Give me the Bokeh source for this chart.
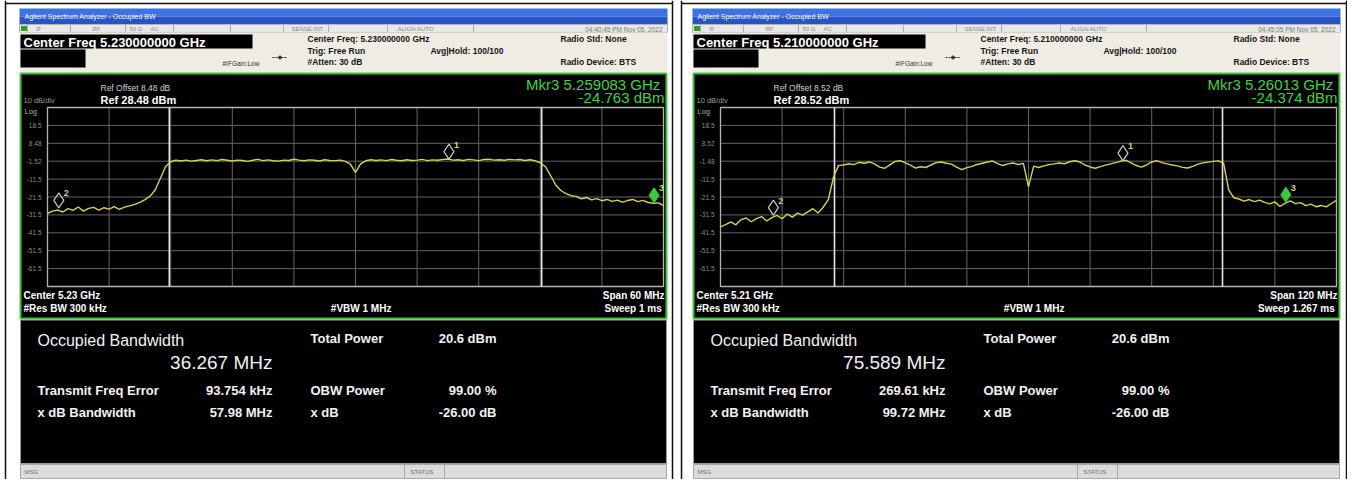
import numpy as np
from bokeh.plotting import figure
from bokeh.models import Range1d
from bokeh.core.properties import value
from bokeh.embed import file_html
from bokeh.resources import INLINE

# ===================== DATA (read from the two analyzer screens) =====================
center_ghz = [5.23, 5.21]
span_mhz = [60.0, 120.0]
ref_dbm = [28.48, 28.52]
ref_offset_db = ["8.48", "8.52"]
obw_mhz = [36.267, 75.589]
total_power = ["20.6 dBm", "20.6 dBm"]
tx_freq_err = ["93.754 kHz", "269.61 kHz"]
obw_power = ["99.00 %", "99.00 %"]
xdb_bw = ["57.98 MHz", "99.72 MHz"]
x_db = ["-26.00 dB", "-26.00 dB"]
sweep = ["1 ms", "1.267 ms"]
timestamps = ["04:40:45 PM Nov 05, 2022", "04:45:05 PM Nov 05, 2022"]
mkr3_freq_label = ["5.259083 GHz", "5.26013 GHz"]
y_tick_labels = [
    ["18.5", "8.48", "-1.52", "-11.5", "-21.5", "-31.5", "-41.5", "-51.5", "-61.5"],
    ["18.5", "8.52", "-1.48", "-11.5", "-21.5", "-31.5", "-41.5", "-51.5", "-61.5"],
]

# trace levels (dBm), evenly spaced across the span
trace_left_dbm = [
    -30.6, -29.4, -28.8, -29.9, -28.0, -28.9, -27.1, -29.4, -27.9, -27.3,
    -28.8, -27.5, -28.3, -26.9, -28.4, -27.2, -26.5, -25.6, -24.5, -23.0,
    -21.0, -17.5, -11.0, -4.5, -1.8, -1.0, -1.4, -0.9, -1.5, -1.1,
    -0.7, -1.3, -0.8, -1.2, -0.6, -1.0, -1.4, -0.9, -1.1, -1.6,
    -1.0, -0.5, -1.2, -0.8, -1.3, -1.5, -0.9, -1.1, -0.4, -0.9,
    -1.3, -0.8, -1.0, -1.4, -0.7, -1.1, -1.2, -0.9, -1.6, -3.2,
    -7.8, -3.0, -1.3, -0.7, -1.1, -0.8, -1.2, -0.6, -1.0, -1.3,
    -0.7, -1.1, -0.9, -0.5, -1.2, -0.8, -1.0, -0.6, -0.3, -0.9,
    -0.7, -1.1, -0.5, -0.8, -1.2, -0.6, -0.4, -0.9, -0.7, -1.0,
    -0.5, -0.8, -0.6, -1.1, -0.7, -1.3, -2.4, -4.6, -9.5, -14.8,
    -17.9, -19.6, -20.8, -21.2, -22.5, -21.8, -23.1, -22.4, -23.6, -22.9,
    -24.0, -23.3, -24.4, -23.5, -22.9, -24.1, -23.4, -24.6, -25.0, -24.8,
    -26.2,
]
trace_right_dbm = [
    -38.2, -36.9, -35.4, -37.0, -34.1, -33.2, -35.3, -33.6, -32.4, -34.9,
    -33.0, -31.8, -33.6, -31.0, -32.7, -30.5, -31.6, -29.8, -28.0, -30.4,
    -27.2, -23.0, -10.5, -3.8, -3.6, -2.9, -3.4, -2.1, -2.6, -1.9,
    -3.0, -4.8, -5.4, -3.5, -1.6, -1.2, -2.4, -3.7, -5.3, -4.6,
    -5.0, -3.6, -2.3, -1.9, -2.6, -3.1, -4.8, -6.2, -5.1, -4.4,
    -3.3, -2.6, -1.9, -1.4, -2.8, -3.9, -3.0, -2.5, -3.3, -2.7,
    -15.8, -4.2, -5.0, -4.1, -3.4, -3.0, -2.5, -2.9, -1.8, -1.2,
    -1.9, -3.6, -4.7, -5.4, -4.5, -3.7, -3.0, -2.3, -1.4, -1.0,
    -2.4, -3.9, -4.8, -3.6, -1.9, -1.2, -2.3, -3.0, -3.6, -4.1,
    -4.9, -5.3, -4.4, -3.1, -2.4, -2.0, -1.6, -1.3, -2.6, -17.5,
    -21.9, -22.6, -23.8, -22.9, -24.1, -23.2, -24.5, -25.3, -24.2, -26.8,
    -24.9, -23.7, -25.2, -24.6, -26.3, -25.5, -26.9, -26.2, -27.0, -25.1,
    -23.4,
]
markers_left_ghz = [5.2391, 5.2011, 5.259083]
markers_left_dbm = [-0.4, -27.6, -24.763]
markers_right_ghz = [5.2284, 5.1603, 5.26013]
markers_right_dbm = [-1.2, -31.6, -24.374]
marker_names = ["1", "2", "3"]

# ===================== FIGURE =====================
W, H = 1347, 479
PX0, PY0 = 0, 0
p = figure(width=W, height=H, x_range=Range1d(PX0, PX0 + W), y_range=Range1d(PY0 + H, PY0),
           output_backend="svg", toolbar_location=None, min_border=0,
           x_axis_location=None, y_axis_location=None, outline_line_color=None,
           background_fill_color="white", border_fill_color="white")
p.grid.visible = False
FONT = value("Liberation Sans")


def txt(x, y, s, size, color, bold=False, align="left"):
    p.text(x=[x], y=[y], text=[s], text_font=FONT, text_font_size=f"{size}px",
           text_color=color, text_align=align, text_baseline="middle",
           text_font_style="bold" if bold else "normal")


def box(l, r, t, b, color, line=None, lw=1.0):
    p.quad(left=[l], right=[r], top=[t], bottom=[b], fill_color=color,
           line_color=line, line_width=lw)


def vline(x, y0, y1, color, lw=1.0):
    p.segment(x0=[x], y0=[y0], x1=[x], y1=[y1], line_color=color, line_width=lw)


def panel(k, dx, levels, mk_f, mk_v):
    c = center_ghz[k]
    sp = span_mhz[k] / 1000.0
    ref = ref_dbm[k]
    L, R = 19 + dx, 667 + dx

    # ---- window chrome ----
    box(L, R, 8, 16, "#3d72e3")
    box(L, R, 16, 24, "#2654c9")
    txt(L + 5, 16, "Agilent Spectrum Analyzer - Occupied BW", 7, "white")
    box(L, R, 24, 32, "#e8e8e8", "#b4b4b4")
    box(L + 1.5, L + 7.5, 25.5, 30.5, "#2c9c2c")
    for xx in [27, 70, 125, 173, 230, 283, 328, 387, 473]:
        vline(xx + dx, 24, 32, "#b0b0b0")
    for xx, s in [(36, "R"), (92, "RF"), (129, "50 Ω"), (150, "AC"),
                  (291, "SENSE:INT"), (397, "ALIGN AUTO")]:
        txt(xx + dx, 28.5, s, 6, "#8a8a8a")
    txt(662 + dx, 28.5, timestamps[k], 6.5, "#7a7a7a", align="right")

    box(L, R, 32, 72, "#efede3")
    box(20 + dx, 252 + dx, 34, 48, "black")
    txt(23 + dx, 41.5, f"Center Freq {c:.9f} GHz", 13, "white", True)
    box(20 + dx, 85 + dx, 49, 67, "black")
    txt(307 + dx, 38.5, f"Center Freq: {c:.9f} GHz", 8.5, "#151515", True)
    txt(307 + dx, 50, "Trig: Free Run", 8.5, "#151515", True)
    txt(307 + dx, 61.5, "#Atten: 30 dB", 8.5, "#151515", True)
    txt(430 + dx, 50.5, "Avg|Hold: 100/100", 8.5, "#151515", True)
    txt(560 + dx, 38.5, "Radio Std: None", 8.5, "#151515", True)
    txt(560 + dx, 61.5, "Radio Device: BTS", 8.5, "#151515", True)
    txt(222 + dx, 63, "#IFGain:Low", 6.5, "#333333")
    p.segment(x0=[272 + dx], y0=[57], x1=[287 + dx], y1=[57], line_color="#333333",
              line_width=1, line_dash="2 1")
    p.scatter(x=[279.5 + dx], y=[57], size=3, color="#333333")

    # ---- screen ----
    box(20 + dx, 666 + dx, 73, 318, "black", "#3cc43c", 2)
    txt(100 + dx, 87.5, f"Ref Offset {ref_offset_db[k]} dB", 8.5, "#cfcfcf")
    txt(100 + dx, 99, f"Ref {ref:.2f} dBm", 11, "white", True)
    txt(23 + dx, 100, "10 dB/div", 7.5, "#9a9a9a")
    txt(24 + dx, 111, "Log", 7.5, "#b0b0b0")
    txt(664 + dx, 84, f"Mkr3  {mkr3_freq_label[k]}", 15, "#3fd23f", align="right")
    txt(664 + dx, 97, f"{mk_v[2]:.3f} dBm", 15, "#3fd23f", align="right")

    txt(23 + dx, 295, f"Center  {c:g} GHz", 10, "white", True)
    txt(23 + dx, 307.5, "#Res BW  300 kHz", 10, "white", True)
    txt(362 + dx, 307.5, "#VBW  1 MHz", 10, "white", True, "center")
    txt(664 + dx, 295, f"Span {span_mhz[k]:g} MHz", 10, "white", True, "right")
    txt(664 + dx, 307.5, f"Sweep  {sweep[k]}", 10, "white", True, "right")

    # ---- result panel ----
    box(20 + dx, 666 + dx, 319.5, 463, "black", "#9a9a9a")
    txt(37 + dx, 340, "Occupied Bandwidth", 16, "#f2f2f2")
    txt(272 + dx, 361.5, f"{obw_mhz[k]:.3f} MHz", 19, "#f2f2f2", align="right")
    txt(310 + dx, 338, "Total Power", 13, "#f2f2f2", True)
    txt(496 + dx, 338, total_power[k], 13, "#f2f2f2", True, "right")
    txt(37 + dx, 390, "Transmit Freq Error", 13, "#f2f2f2", True)
    txt(272 + dx, 390, tx_freq_err[k], 13, "#f2f2f2", True, "right")
    txt(310 + dx, 390, "OBW Power", 13, "#f2f2f2", True)
    txt(496 + dx, 390, obw_power[k], 13, "#f2f2f2", True, "right")
    txt(37 + dx, 412, "x dB Bandwidth", 13, "#f2f2f2", True)
    txt(272 + dx, 412, xdb_bw[k], 13, "#f2f2f2", True, "right")
    txt(310 + dx, 412, "x dB", 13, "#f2f2f2", True)
    txt(496 + dx, 412, x_db[k], 13, "#f2f2f2", True, "right")

    box(20 + dx, 666 + dx, 464, 478, "#dcdcdc", "#a8a8a8")
    vline(404 + dx, 464, 478, "#a8a8a8")
    vline(444 + dx, 464, 478, "#a8a8a8")
    txt(24 + dx, 471, "MSG", 6, "#707070")
    txt(410 + dx, 471, "STATUS", 6, "#707070")

    # ---- measurement axes: frequency (GHz) x level (dBm) ----
    xn, yn = f"f{k}", f"v{k}"
    gl, gr, gt, gb = 47 + dx, 663 + dx, 107, 286
    fs, fe = c - sp / 2, c + sp / 2
    sx = (fe - fs) / (gr - gl)
    sy = 100.0 / (gb - gt)
    p.extra_x_ranges[xn] = Range1d(fs - (gl - PX0) * sx, fe + (PX0 + W - gr) * sx)
    p.extra_y_ranges[yn] = Range1d(ref - 100 - (PY0 + H - gb) * sy, ref + (gt - PY0) * sy)
    rn = dict(x_range_name=xn, y_range_name=yn)

    vf = [fs + i * sp / 10 for i in range(1, 10)]
    hl = [ref - 10 * i for i in range(1, 10)]
    p.segment(x0=vf, y0=[ref - 100] * 9, x1=vf, y1=[ref] * 9, line_color="#646464",
              line_width=1, **rn)
    p.segment(x0=[fs] * 9, y0=hl, x1=[fe] * 9, y1=hl, line_color="#646464",
              line_width=1, **rn)
    p.quad(left=[fs], right=[fe], top=[ref], bottom=[ref - 100], fill_color=None,
           line_color="#b4b4b4", line_width=1.3, **rn)
    half = obw_mhz[k] / 1000.0 / 2
    p.segment(x0=[c - half, c + half], y0=[ref - 100] * 2, x1=[c - half, c + half],
              y1=[ref] * 2, line_color="#e6e6e6", line_width=1.6, **rn)
    p.text(x=[fs] * 9, y=hl, text=y_tick_labels[k], x_offset=-6, text_align="right",
           text_baseline="middle", text_font=FONT, text_font_size="6.5px",
           text_color="#8c8c8c", **rn)

    freqs = np.linspace(fs, fe, len(levels))
    p.line(freqs, levels, line_color="#d4d44c", line_width=1.4, **rn)

    lift = [v + 7.5 * sy for v in mk_v]
    p.scatter(x=mk_f[:2], y=lift[:2], marker="diamond", size=15, fill_color=None,
              line_color="#c8c8c8", line_width=1.2, **rn)
    p.scatter(x=mk_f[2:], y=lift[2:], marker="diamond", size=15, fill_color="#3cc83c",
              line_color="#3cc83c", line_width=1, **rn)
    p.text(x=mk_f, y=lift, text=marker_names, x_offset=5, y_offset=-7,
           text_baseline="middle", text_font=FONT, text_font_size="9px",
           text_font_style="bold", text_color="#d8d850", **rn)


panel(0, 0, trace_left_dbm, markers_left_ghz, markers_left_dbm)
panel(1, 673, trace_right_dbm, markers_right_ghz, markers_right_dbm)

for xx in [5, 672, 681, 1346]:
    vline(xx, PY0, PY0 + H, "#111111", 1.5)
p.segment(x0=[5, 681], y0=[3, 3], x1=[672, 1346], y1=[3, 3], line_color="#111111",
          line_width=1.5)

open("out.html", "w").write(file_html(p, INLINE))
